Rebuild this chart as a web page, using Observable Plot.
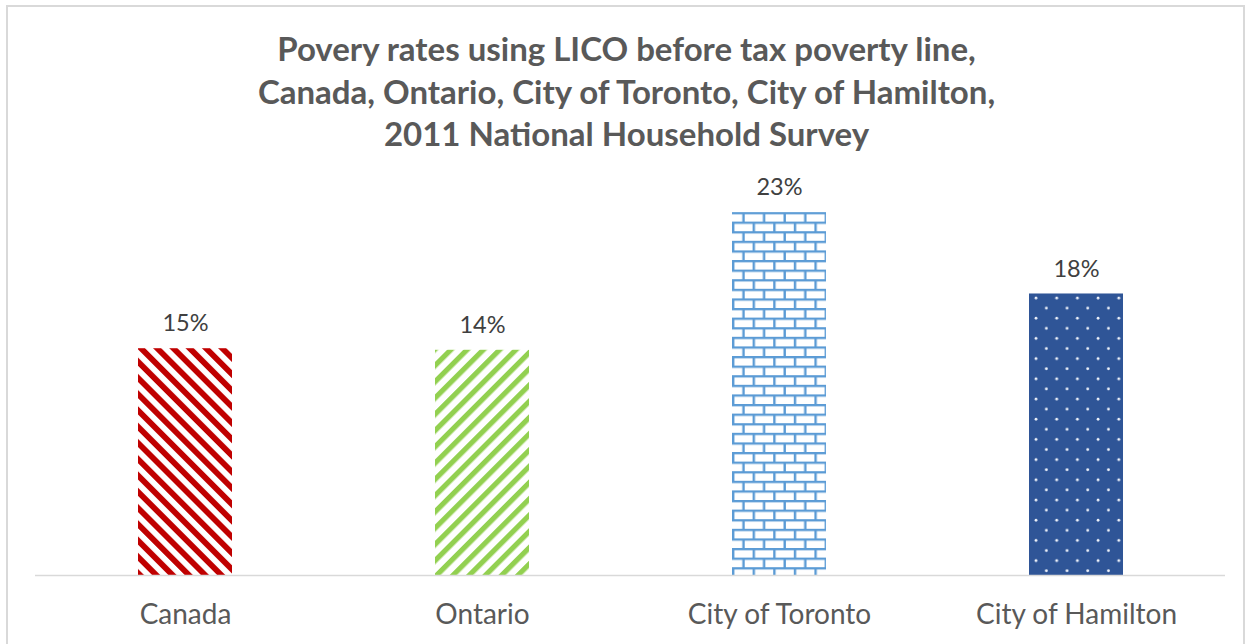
<!DOCTYPE html>
<html>
<head>
<meta charset="utf-8">
<script src="https://cdn.jsdelivr.net/npm/d3@7"></script>
<script src="https://cdn.jsdelivr.net/npm/@observablehq/plot@0.6"></script>
<style>
  html, body { margin: 0; padding: 0; background: #fff; }
  #wrap { position: relative; width: 1253px; height: 644px; overflow: hidden; font-family: Lato, "Open Sans", sans-serif; }
  #frame { position: absolute; left: 6px; top: 5px; width: 1239px; height: 700px; border: 2px solid #d9d9d9; box-sizing: border-box; pointer-events: none; }
  #title { position: absolute; left: 6px; width: 1241px; top: 27px; text-align: center; font-weight: 700; font-size: 33px; line-height: 42.5px; color: #595959; }
  #chart { position: absolute; left: 0; top: 0; }
</style>
</head>
<body>
<div id="wrap">
  <div id="chart"></div>
  <div id="frame"></div>
  <div id="title">Povery rates using LICO before tax poverty line,<br>Canada, Ontario, City of Toronto, City of Hamilton,<br>2011 National Household Survey</div>
</div>
<script>
const categories = ["Canada", "Ontario", "City of Toronto", "City of Hamilton"];
const values = [14.5, 14.4, 23.2, 18.0];
const valueLabels = ["15%", "14%", "23%", "18%"];
const patternIds = ["pat-red", "pat-green", "pat-brick", "pat-dots"];

const data = categories.map((c, i) => ({
  category: c,
  value: values[i],
  label: valueLabels[i],
  fill: `url(#${patternIds[i]})`
}));

const chart = Plot.plot({
  width: 1253,
  height: 644,
  marginLeft: 35,
  marginRight: 28,
  marginTop: 184,
  marginBottom: 69,
  style: { fontFamily: "Lato, 'Open Sans', sans-serif", color: "#595959", background: "transparent" },
  x: { domain: categories, paddingInner: 0.684, paddingOuter: 0.342, label: null },
  y: { domain: [0, 25], axis: null },
  color: { type: "identity" },
  marks: [
    Plot.barY(data, { x: "category", y: "value", fill: "fill" }),
    Plot.ruleY([0], { stroke: "#d9d9d9", strokeWidth: 1.5 }),
    Plot.text(data, { x: "category", y: "value", text: "label", dy: -25, lineAnchor: "middle", fontSize: 23.5, fill: "#404040" }),
    Plot.axisX({ tickSize: 0, tickPadding: 29, fontSize: 28, fill: "#595959", label: null })
  ]
});

// Pattern definitions (Excel-like pattern fills)
const svg = d3.select(chart);
const defs = svg.insert("defs", ":first-child");

// Red downward diagonal stripes
const red = defs.append("pattern").attr("id", "pat-red").attr("patternUnits", "userSpaceOnUse")
  .attr("width", 11.5).attr("height", 11.5).attr("patternTransform", "rotate(-45)");
red.append("rect").attr("width", 11.5).attr("height", 11.5).attr("fill", "#ffffff");
red.append("rect").attr("width", 5.8).attr("height", 11.5).attr("fill", "#c00000");

// Green upward diagonal stripes
const green = defs.append("pattern").attr("id", "pat-green").attr("patternUnits", "userSpaceOnUse")
  .attr("width", 11.5).attr("height", 11.5).attr("patternTransform", "rotate(45)");
green.append("rect").attr("width", 11.5).attr("height", 11.5).attr("fill", "#ffffff");
green.append("rect").attr("width", 5.2).attr("height", 11.5).attr("fill", "#92d050");

// Blue bricks
const bw = 20.6, bh = 9.6;
const brick = defs.append("pattern").attr("id", "pat-brick").attr("patternUnits", "userSpaceOnUse")
  .attr("width", bw).attr("height", bh * 2).attr("x", 732).attr("y", 212);
brick.append("rect").attr("width", bw).attr("height", bh * 2).attr("fill", "#ffffff");
brick.append("rect").attr("x", 0).attr("y", 0).attr("width", bw).attr("height", 2.3).attr("fill", "#5b9bd5");
brick.append("rect").attr("x", 0).attr("y", bh).attr("width", bw).attr("height", 2.3).attr("fill", "#5b9bd5");
brick.append("rect").attr("x", 0).attr("y", bh).attr("width", 2.4).attr("height", bh).attr("fill", "#5b9bd5");
brick.append("rect").attr("x", bw / 2).attr("y", 0).attr("width", 2.4).attr("height", bh).attr("fill", "#5b9bd5");

// Dark blue with white dots
const dw = 20.7, dh = 20.2;
const dots = defs.append("pattern").attr("id", "pat-dots").attr("patternUnits", "userSpaceOnUse")
  .attr("width", dw).attr("height", dh).attr("x", 1030).attr("y", 293);
dots.append("rect").attr("width", dw).attr("height", dh).attr("fill", "#2f5597");
dots.append("circle").attr("cx", 6).attr("cy", 5).attr("r", 1.4).attr("fill", "#eef2fa");
dots.append("circle").attr("cx", 6 + dw / 2).attr("cy", 5 + dh / 2).attr("r", 1.4).attr("fill", "#eef2fa");

document.getElementById("chart").appendChild(chart);
</script>
</body>
</html>
